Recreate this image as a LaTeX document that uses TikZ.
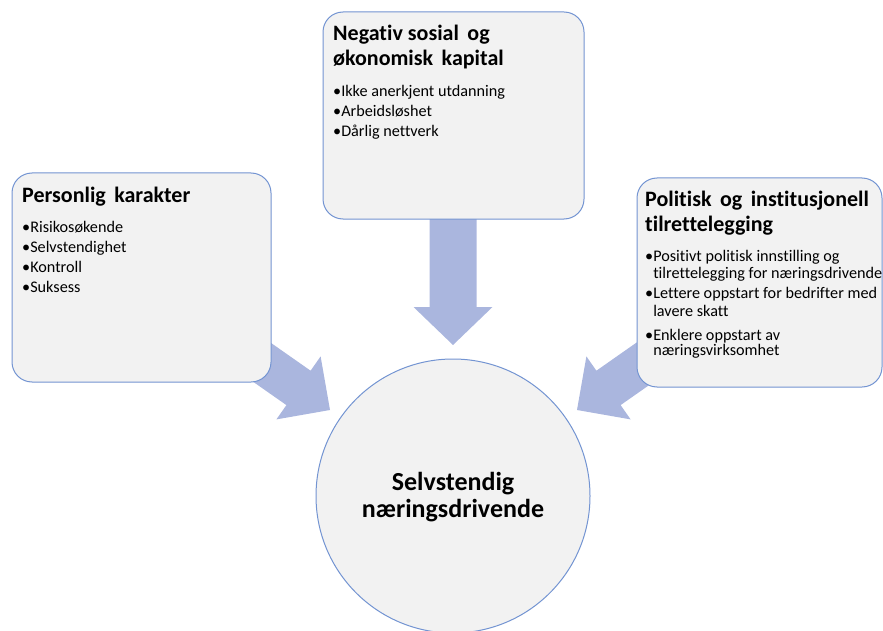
\documentclass[tikz,border=0pt]{standalone}
\usepackage{fontspec}
\setmainfont[Ligatures=NoCommon]{Carlito}
\definecolor{boxfill}{HTML}{F2F2F2}
\definecolor{boxline}{HTML}{7394D2}
\definecolor{arrowfill}{HTML}{AAB6DE}
\newcommand{\wsp}{\ \hspace{3.5pt}}
\tikzset{
  card/.style={draw=boxline, fill=boxfill, line width=1pt, rounded corners=20pt, inner sep=0pt},
  hub/.style={draw=boxline, fill=boxfill, line width=1pt, circle, inner sep=0pt, minimum size=274pt},
  blockarrow/.style={fill=arrowfill, draw=none},
  ttl/.style={anchor=base west, inner sep=0pt, font=\bfseries\fontsize{22}{26}\selectfont},
  itm/.style={anchor=base west, inner sep=0pt, font=\fontsize{16.2}{19}\selectfont},
  hubtext/.style={anchor=base, inner sep=0pt, font=\bfseries\fontsize{26}{30}\selectfont}
}
\begin{document}
\begin{tikzpicture}[x=1pt,y=-1pt]
\useasboundingbox (0,0) rectangle (883,631);
% block arrows (behind the boxes)
\coordinate (ltip) at (330,410);
\coordinate (ttip) at (453,345);
\coordinate (rtip) at (577,410);
\fill[blockarrow] (188.1,336.2) -- (286.4,405.1) -- (276.4,419.4) -- (ltip) -- (320.6,356.4) -- (310.6,370.7) -- (212.3,301.8) -- cycle;
\fill[blockarrow] (429.5,150) -- (429.5,307) -- (413.5,307) -- (ttip) -- (492.5,307) -- (476.5,307) -- (476.5,150) -- cycle;
\fill[blockarrow] (718.9,336.2) -- (620.6,405.1) -- (630.6,419.4) -- (rtip) -- (586.4,356.4) -- (596.4,370.7) -- (694.7,301.8) -- cycle;
% boxes
\node[card, minimum width=259pt, minimum height=209pt] (left) at (141.5,277.5) {};
\node[card, minimum width=261pt, minimum height=207pt] (top) at (453.5,115.5) {};
\node[card, minimum width=245pt, minimum height=209pt] (right) at (759.5,282.5) {};
\node[hub] (hub) at (453,496) {};
% left texts
\node[ttl] (l0) at (22,203) {Personlig\wsp karakter};
\node[itm] (l1) at (22,232.5) {•Risikosøkende};
\node[itm] (l2) at (22,252.5) {•Selvstendighet};
\node[itm] (l3) at (22,272.5) {•Kontroll};
\node[itm] (l4) at (22,292.5) {•Suksess};
% top texts
\node[ttl] (t0) at (333,40.5) {Negativ sosial\wsp og};
\node[ttl] (t1) at (333,65.5) {økonomisk\wsp kapital};
\node[itm] (t2) at (333,96.5) {•Ikke anerkjent utdanning};
\node[itm] (t3) at (333,116.5) {•Arbeidsløshet};
\node[itm] (t4) at (333,136.5) {•Dårlig nettverk};
% right texts
\node[ttl] (r0) at (645,206.5) {Politisk\wsp og\wsp institusjonell};
\node[ttl] (r1) at (645,231) {tilrettelegging};
\node[itm] (r2) at (645,261.5) {•Positivt politisk innstilling og};
\node[itm] (r3) at (645,278) {\hphantom{•}tilrettelegging for næringsdrivende};
\node[itm] (r4) at (645,298) {•Lettere oppstart for bedrifter med};
\node[itm] (r5) at (645,316.5) {\hphantom{•}lavere skatt};
\node[itm] (r6) at (645,340) {•Enklere oppstart av};
\node[itm] (r7) at (645,355.5) {\hphantom{•}næringsvirksomhet};
% hub text
\node[hubtext] (h1) at (453,490) {Selvstendig};
\node[hubtext] (h2) at (453,517) {næringsdrivende};
\end{tikzpicture}
\end{document}
